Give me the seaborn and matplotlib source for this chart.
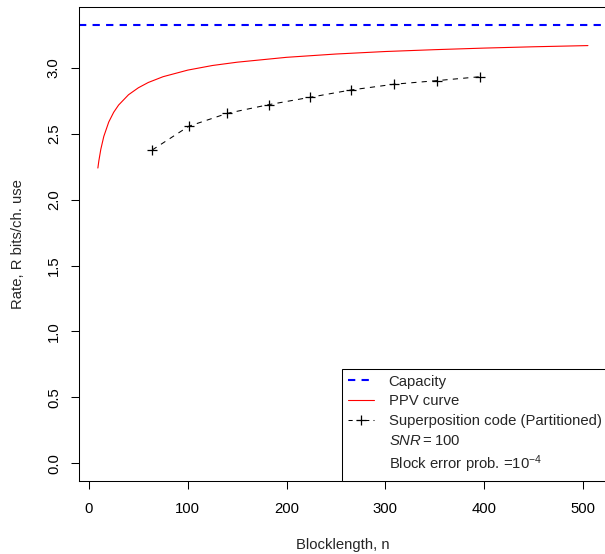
import numpy as np
import pandas as pd
import matplotlib
matplotlib.use("Agg")
import matplotlib.pyplot as plt
from matplotlib.lines import Line2D
import seaborn as sns

# values
capacity = 3.328

ppv_n = [9, 10, 12, 15, 20, 25, 30, 40, 50, 60, 75, 100, 125, 150, 200,
         250, 300, 350, 400, 450, 505]
ppv_rate = [2.24, 2.295, 2.383, 2.48, 2.589, 2.663, 2.718, 2.796, 2.849,
            2.889, 2.933, 2.983, 3.018, 3.043, 3.08, 3.105, 3.124, 3.138,
            3.15, 3.16, 3.169]

sup_n = [64, 101, 140, 182, 224, 265, 309, 352, 396]
sup_rate = [2.377, 2.557, 2.655, 2.721, 2.777, 2.832, 2.876, 2.903, 2.933]

legend_labels = ["Capacity", "PPV curve", "Superposition code (Partitioned)",
                 r"$SNR = 100$", r"Block error prob. =$10^{-4}$"]

FS = 10.7

sns.set_theme(style="white")
plt.rcParams["font.family"] = ["Liberation Sans", "DejaVu Sans"]
plt.rcParams["mathtext.fontset"] = "custom"
plt.rcParams["mathtext.rm"] = "Liberation Sans"
plt.rcParams["mathtext.it"] = "Liberation Sans:italic"
plt.rcParams["font.size"] = FS

ppv = pd.DataFrame({"n": ppv_n, "rate": ppv_rate})
sup = pd.DataFrame({"n": sup_n, "rate": sup_rate})

fig = plt.figure(figsize=(6.05, 5.54), dpi=100)
ax = fig.add_axes([79 / 605, 1 - 480.7 / 554, 528.5 / 605, 474 / 554])

ax.axhline(capacity, color="#0000FF", lw=1.5, dashes=(3.5, 3))
sns.lineplot(data=ppv, x="n", y="rate", ax=ax, color="#FF0000", lw=0.8)
sns.lineplot(data=sup, x="n", y="rate", ax=ax, color="black", lw=0.75,
             linestyle=(0, (5, 5)), marker="+", markersize=7.5,
             markeredgewidth=0.9, markeredgecolor="black")

ax.set_xlim(-10.1, 524.8)
ax.set_ylim(-0.132, 3.464)
ax.set_xticks([0, 100, 200, 300, 400, 500])
ax.set_yticks([0.0, 0.5, 1.0, 1.5, 2.0, 2.5, 3.0])
ax.set_yticklabels(["0.0", "0.5", "1.0", "1.5", "2.0", "2.5", "3.0"],
                   rotation=90, va="center")
ax.tick_params(axis="both", direction="out", length=6, width=0.75,
               colors="black", labelsize=FS, left=True, bottom=True)
ax.tick_params(axis="x", pad=9)
ax.tick_params(axis="y", pad=7)
for s in ax.spines.values():
    s.set_color("black")
    s.set_linewidth(0.75)

ax.set_xlabel("Blocklength, n", fontsize=FS, labelpad=16)
ax.set_ylabel("Rate, R bits/ch. use", fontsize=FS, labelpad=16)

handles = [
    Line2D([], [], color="#0000FF", lw=1.5, dashes=(3.5, 3)),
    Line2D([], [], color="#FF0000", lw=0.8),
    Line2D([], [], color="black", lw=0.75, linestyle=(0, (4, 4)),
           marker="+", markersize=7.5, markeredgewidth=0.9),
    Line2D([], [], linestyle="none"),
    Line2D([], [], linestyle="none"),
]
leg = ax.legend(handles, legend_labels, loc="lower right",
                bbox_to_anchor=(1, 0), borderaxespad=0, fancybox=False,
                framealpha=1, edgecolor="black", fontsize=FS,
                borderpad=0.4, handlelength=1.75, handletextpad=1.0,
                labelspacing=0.38)
leg.get_frame().set_linewidth(0.75)

fig.savefig("out.png", dpi=100)
